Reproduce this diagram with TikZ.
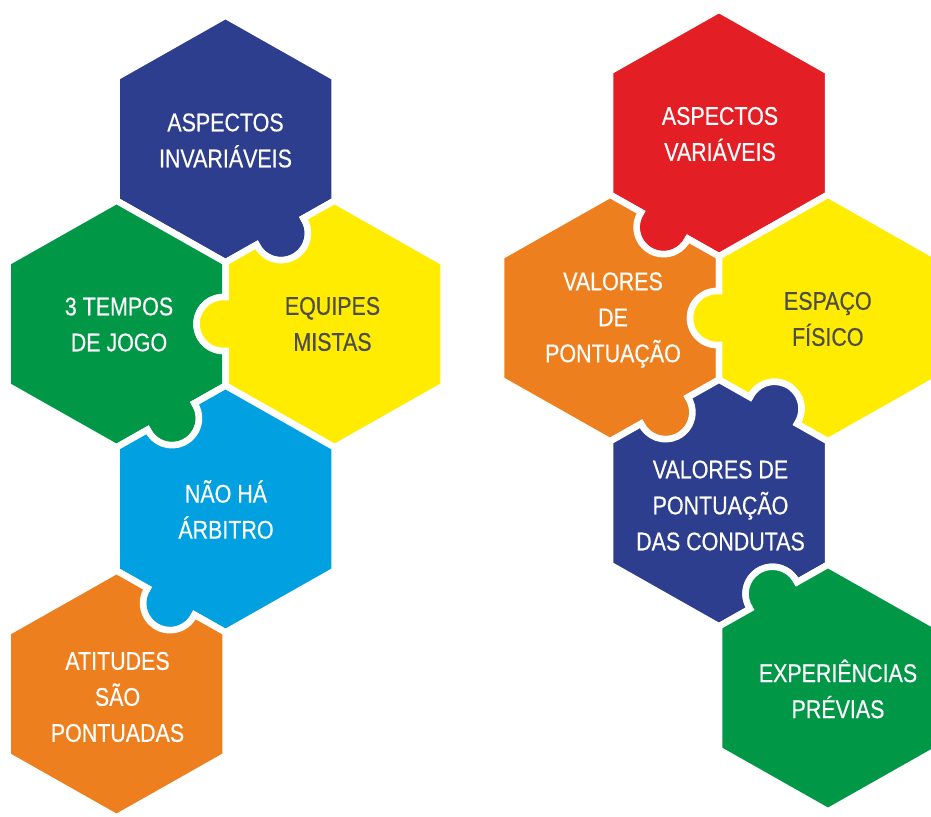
\documentclass[tikz,border=0pt]{standalone}
\usepackage{fontspec}
\setmainfont{Liberation Sans}[FakeStretch=0.84,FakeBold=0.4]
\usetikzlibrary{calc}
\definecolor{cNavy}{HTML}{2E3E8E}
\definecolor{cGreen}{HTML}{009846}
\definecolor{cYellow}{HTML}{FFEC00}
\definecolor{cSky}{HTML}{00A0E1}
\definecolor{cOrange}{HTML}{EE7F1E}
\definecolor{cRed}{HTML}{E31E25}
\definecolor{cText}{HTML}{4D4D4D}
\tikzset{
  piece/.style={draw=white, line width=6.5, line join=miter},
  lbl/.style={align=center, text=white, inner sep=0pt, font=\fontsize{25.5}{36}\selectfont},
  lbldark/.style={lbl, text=cText}
}
% hexagon grid cell: name, centre x, centre y
\newcommand\defhex[3]{%
  \coordinate (#1) at (#2,#3);
  \coordinate (#1v0) at (#2,#3-123.33);
  \coordinate (#1v1) at (#2+109,#3-61.67);
  \coordinate (#1v2) at (#2+109,#3+61.67);
  \coordinate (#1v3) at (#2,#3+123.33);
  \coordinate (#1v4) at (#2-109,#3+61.67);
  \coordinate (#1v5) at (#2-109,#3-61.67);
  \coordinate (#1c0) at ($(#2+54.5,#3-92.5)+(-60.5:2)$);
  \coordinate (#1c1) at ($(#2+109,#3)+(0:2)$);
  \coordinate (#1c2) at ($(#2+54.5,#3+92.5)+(60.5:2)$);
  \coordinate (#1c3) at ($(#2-54.5,#3+92.5)+(119.5:2)$);
  \coordinate (#1c4) at ($(#2-109,#3)+(180:2)$);
  \coordinate (#1c5) at ($(#2-54.5,#3-92.5)+(240.5:2)$);
  \coordinate (#1i0) at ($(#2+54.5,#3-92.5)-(-60.5:2)$);
  \coordinate (#1i1) at ($(#2+109,#3)-(0:2)$);
  \coordinate (#1i2) at ($(#2+54.5,#3+92.5)-(60.5:2)$);
  \coordinate (#1i3) at ($(#2-54.5,#3+92.5)-(119.5:2)$);
  \coordinate (#1i4) at ($(#2-109,#3)-(180:2)$);
  \coordinate (#1i5) at ($(#2-54.5,#3-92.5)-(240.5:2)$);
}
% knob / hollow segment: circle centre, start angle, end angle
\newcommand\kn[3]{-- ($(#1)+(#2:27)$) arc[start angle=#2, end angle=#3, radius=27]}
\begin{document}
\begin{tikzpicture}[x=1pt,y=-1pt]
\useasboundingbox (0,0) rectangle (931,816);
% left column
\defhex{La}{225.5}{139}
\defhex{Lb}{116.5}{324}
\defhex{Lc}{334.5}{324}
\defhex{Ld}{225.5}{509}
\defhex{Le}{116.5}{694}
% right column
\defhex{Ra}{719}{133}
\defhex{Rb}{610}{318}
\defhex{Rc}{828}{318}
\defhex{Rd}{719}{503}
\defhex{Re}{828}{688}

% ---- left pieces
\filldraw[piece, fill=cNavy] (Lav0) -- (Lav1) -- (Lav2) \kn{Lac2}{-33.75}{154.75} -- (Lav3) -- (Lav4) -- (Lav5) -- cycle;
\filldraw[piece, fill=cGreen] (Lbv0) -- (Lbv1) \kn{Lbi1}{274.25}{85.75} -- (Lbv2) \kn{Lbc2}{-33.75}{154.75} -- (Lbv3) -- (Lbv4) -- (Lbv5) -- cycle;
\filldraw[piece, fill=cYellow] (Lcv0) -- (Lcv1) -- (Lcv2) -- (Lcv3) -- (Lcv4) \kn{Lcc4}{85.75}{274.25} -- (Lcv5) \kn{Lci5}{514.75}{326.25} -- cycle;
\filldraw[piece, fill=cSky] (Ldv0) -- (Ldv1) -- (Ldv2) -- (Ldv3) \kn{Ldc3}{25.25}{213.75} -- (Ldv4) -- (Ldv5) \kn{Ldi5}{514.75}{326.25} -- cycle;
\filldraw[piece, fill=cOrange] (Lev0) \kn{Lei0}{213.75}{25.25} -- (Lev1) -- (Lev2) -- (Lev3) -- (Lev4) -- (Lev5) -- cycle;

% ---- right pieces
\filldraw[piece, fill=cRed] (Rav0) -- (Rav1) -- (Rav2) -- (Rav3) \kn{Rac3}{25.25}{213.75} -- (Rav4) -- (Rav5) -- cycle;
\filldraw[piece, fill=cOrange] (Rbv0) \kn{Rbi0}{213.75}{25.25} -- (Rbv1) \kn{Rbi1}{274.25}{85.75} -- (Rbv2) \kn{Rbc2}{-33.75}{154.75} -- (Rbv3) -- (Rbv4) -- (Rbv5) -- cycle;
\filldraw[piece, fill=cYellow] (Rcv0) -- (Rcv1) -- (Rcv2) -- (Rcv3) \kn{Rci3}{393.75}{205.25} -- (Rcv4) \kn{Rcc4}{85.75}{274.25} -- (Rcv5) -- cycle;
\filldraw[piece, fill=cNavy] (Rdv0) \kn{Rdc0}{-154.75}{33.75} -- (Rdv1) -- (Rdv2) \kn{Rdi2}{334.75}{146.25} -- (Rdv3) -- (Rdv4) -- (Rdv5) \kn{Rdi5}{514.75}{326.25} -- cycle;
\filldraw[piece, fill=cGreen] (Rev0) -- (Rev1) -- (Rev2) -- (Rev3) -- (Rev4) -- (Rev5) \kn{Rec5}{146.25}{334.75} -- cycle;

% ---- labels
\node[lbl] (tLa) at (225.5,140.5) {ASPECTOS\\INVARIÁVEIS};
\node[lbl] (tLb) at (119,324.5) {3 TEMPOS\\DE JOGO};
\node[lbldark] (tLc) at (332.5,324) {EQUIPES\\MISTAS};
\node[lbl] (tLd) at (226,509.5) {NÃO HÁ\\ÁRBITRO};
\node[lbl] (tLe) at (117.5,697) {ATITUDES\\SÃO\\PONTUADAS};
\node[lbl] (tRa) at (720,134) {ASPECTOS\\VARIÁVEIS};
\node[lbl] (tRb) at (613,320) {VALORES\\DE\\PONTUAÇÃO};
\node[lbldark] (tRc) at (827.8,319) {ESPAÇO\\FÍSICO};
\node[lbl] (tRd) at (720.5,505.5) {VALORES DE\\PONTUAÇÃO\\DAS CONDUTAS};
\node[lbl] (tRe) at (838,689) {EXPERIÊNCIAS\\PRÉVIAS};
\end{tikzpicture}
\end{document}
